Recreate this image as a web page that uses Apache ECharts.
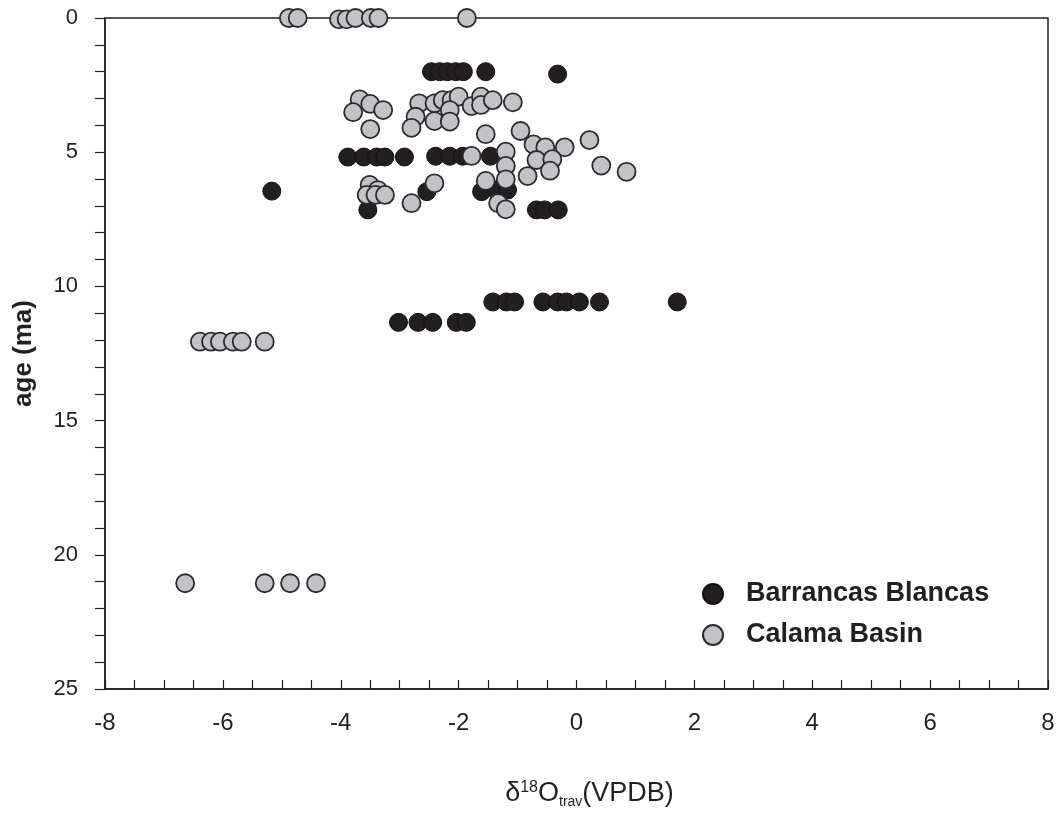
<!DOCTYPE html>
<html>
<head>
<meta charset="utf-8">
<script src="https://cdn.jsdelivr.net/npm/echarts@6/dist/echarts.min.js"></script>
<style>
  html, body { margin: 0; padding: 0; background: #fff; }
  #main { width: 1061px; height: 816px; }
</style>
</head>
<body>
<div id="main"></div>
<script>
// δ18O (x) vs age in Ma (y)
var barrancasX = [-2.46, -2.32, -2.19, -2.05, -1.92, -1.54, -0.32,
    -3.88, -3.61, -3.39, -3.25, -2.92, -2.39, -2.15, -1.93, -1.46,
    -5.17, -2.54, -1.61, -1.36, -1.17,
    -3.54, -0.68, -0.54, -0.31,
    -1.42, -1.19, -1.05, -0.57, -0.32, -0.17, 0.05, 0.39, 1.71,
    -3.02, -2.69, -2.44, -2.04, -1.87];
var barrancasAge = [2.0, 2.0, 2.0, 2.0, 2.0, 2.0, 2.09,
    5.18, 5.18, 5.18, 5.18, 5.18, 5.15, 5.15, 5.15, 5.15,
    6.45, 6.47, 6.47, 6.41, 6.41,
    7.15, 7.15, 7.15, 7.15,
    10.58, 10.58, 10.58, 10.58, 10.58, 10.58, 10.58, 10.58, 10.58,
    11.34, 11.34, 11.34, 11.34, 11.34];

var calamaX = [-4.88, -4.73, -4.03, -3.90, -3.75, -3.49, -3.36, -1.86,
    -3.68, -3.50, -3.79, -3.28, -3.50, -2.67, -2.41, -2.27, -2.12, -2.00,
    -2.15, -1.78, -1.62, -1.62, -1.42, -1.08, -2.73, -2.80, -2.41, -2.15,
    -1.54, -0.95, -0.73, -0.53, -0.20, 0.22, -0.68, -0.41, -0.45, -0.83,
    0.42, 0.85, -1.78, -1.20, -1.20, -1.20, -1.54, -1.33, -1.20,
    -3.51, -3.37, -3.56, -3.41, -3.25, -2.41, -2.80,
    -6.39, -6.20, -6.05, -5.83, -5.68, -5.29,
    -6.64, -5.29, -4.86, -4.42];
var calamaAge = [0, 0, 0.05, 0.05, 0, 0, 0, 0,
    3.03, 3.20, 3.51, 3.43, 4.14, 3.18, 3.18, 3.06, 3.06, 2.93,
    3.43, 3.28, 2.93, 3.24, 3.06, 3.14, 3.68, 4.09, 3.84, 3.86,
    4.33, 4.21, 4.71, 4.82, 4.82, 4.55, 5.29, 5.26, 5.69, 5.89,
    5.50, 5.73, 5.14, 4.98, 5.51, 6.01, 6.07, 6.90, 7.13,
    6.22, 6.41, 6.59, 6.59, 6.59, 6.16, 6.90,
    12.06, 12.06, 12.06, 12.06, 12.06, 12.06,
    21.06, 21.06, 21.06, 21.06];

var seriesNames = ['Barrancas Blancas', 'Calama Basin'];

function pairs(xs, ys) {
    return xs.map(function (x, i) { return [x, ys[i]]; });
}

var fontMain = "'Liberation Sans', Arial, sans-serif";
var ink = '#231f20';

var myChart = echarts.init(document.getElementById('main'));

var option = {
    animation: false,
    grid: {
        left: 105, right: 13, top: 18, bottom: 127,
        show: true, borderColor: ink, borderWidth: 1.5
    },
    legend: {
        orient: 'vertical',
        left: 697, top: 574,
        itemGap: 11,
        itemWidth: 20, itemHeight: 20,
        icon: 'circle',
        textStyle: {fontFamily: fontMain, fontWeight: 'bold', fontSize: 27, lineHeight: 30,
            color: ink, padding: [0, 0, 0, 18]},
        data: seriesNames
    },
    xAxis: {
        type: 'value',
        min: -8, max: 8, interval: 2,
        axisLine: {onZero: false, lineStyle: {color: ink, width: 1.5}},
        axisTick: {inside: true, length: 9, lineStyle: {color: ink, width: 1.2}},
        minorTick: {show: true, splitNumber: 4, length: 9, lineStyle: {color: ink, width: 1.2}},
        splitLine: {show: false},
        axisLabel: {margin: 22, fontFamily: fontMain, fontSize: 24, color: ink},
        name: '{n|δ}{sup|18}{n|O}{sub|trav}{n|(VPDB)}',
        nameLocation: 'middle',
        nameGap: 90,
        nameTextStyle: {
            padding: [0, 0, 0, 26],
            rich: {
                n: {fontFamily: fontMain, fontSize: 27, color: ink},
                sup: {fontFamily: fontMain, fontSize: 16, color: ink, padding: [0, 0, 12, 0]},
                sub: {fontFamily: fontMain, fontSize: 14, color: ink, padding: [16, 0, 0, 0]}
            }
        }
    },
    yAxis: {
        type: 'value',
        inverse: true,
        min: 0, max: 25, interval: 5,
        axisLine: {onZero: false, lineStyle: {color: ink, width: 1.5}},
        axisTick: {length: 10, lineStyle: {color: ink, width: 1.2}},
        minorTick: {show: true, splitNumber: 5, length: 10, lineStyle: {color: ink, width: 1.2}},
        splitLine: {show: false},
        axisLabel: {margin: 27, fontFamily: fontMain, fontSize: 22, color: ink},
        name: 'age (ma)',
        nameLocation: 'middle',
        nameGap: 68,
        nameTextStyle: {fontFamily: fontMain, fontWeight: 'bold', fontSize: 26, color: ink}
    },
    series: [{
        name: seriesNames[0],
        type: 'scatter',
        symbolSize: 18,
        itemStyle: {color: ink, borderColor: '#111', borderWidth: 1, opacity: 1},
        data: pairs(barrancasX, barrancasAge)
    }, {
        name: seriesNames[1],
        type: 'scatter',
        symbolSize: 18,
        itemStyle: {color: '#c2c3c7', borderColor: '#2b2b2b', borderWidth: 1.8, opacity: 1},
        data: pairs(calamaX, calamaAge)
    }]
};

myChart.setOption(option);
</script>
</body>
</html>
